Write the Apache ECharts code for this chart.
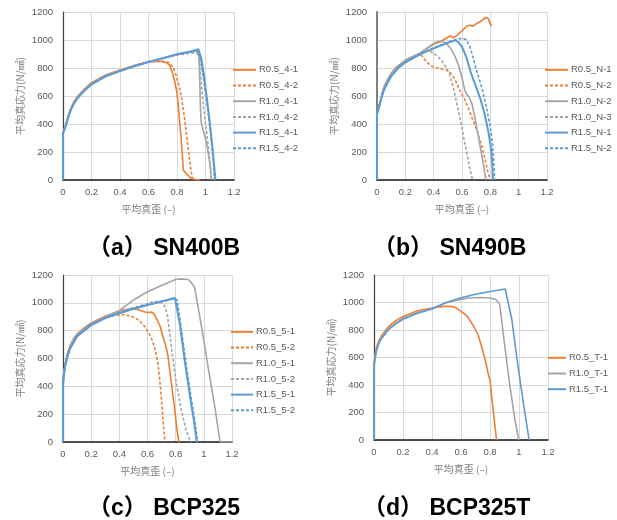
<!DOCTYPE html>
<html><head><meta charset="utf-8">
<script src="https://cdn.jsdelivr.net/npm/echarts@6/dist/echarts.min.js"></script>
<style>html,body{margin:0;padding:0;background:#fff}#c{width:617px;height:520px}</style>
</head><body><div id="c"></div>
<script>
// ---- tick labels / axis settings ----
const xTicks = [0, 0.2, 0.4, 0.6, 0.8, 1, 1.2];
const yTicks = [0, 200, 400, 600, 800, 1000, 1200];
const panelTitles = ['（a） SN400B', '（b） SN490B', '（c） BCP325', '（d） BCP325T'];
const xName = '平均真歪 (–)';
const yName = '平均真応力(N/㎟)';

// ---- (a) SN400B ----
const namesA = ['R0.5_4-1', 'R0.5_4-2', 'R1.0_4-1', 'R1.0_4-2', 'R1.5_4-1', 'R1.5_4-2'];
const a_R05_1 = [[0,0],[0,338],[0.01,348],[0.02,395],[0.03,435],[0.05,500],[0.075,555],[0.1,595],[0.15,650],[0.2,695],[0.3,750],[0.4,786],[0.5,818],[0.6,845],[0.65,848],[0.7,845],[0.73,835],[0.75,818],[0.77,760],[0.785,700],[0.8,620],[0.81,520],[0.82,400],[0.83,280],[0.845,70],[0.87,40],[0.9,12],[0.93,3],[0.96,0]];
const a_R05_2 = [[0,0],[0,336],[0.01,347],[0.02,393],[0.03,433],[0.05,497],[0.075,552],[0.1,592],[0.15,648],[0.2,693],[0.3,748],[0.4,784],[0.5,817],[0.6,845],[0.7,848],[0.74,840],[0.77,810],[0.79,760],[0.81,690],[0.83,600],[0.85,460],[0.87,300],[0.89,130],[0.9,60],[0.91,0]];
const a_R10_1 = [[0,0],[0,335],[0.01,345],[0.02,390],[0.03,430],[0.05,493],[0.075,548],[0.1,588],[0.15,644],[0.2,689],[0.3,745],[0.4,782],[0.5,815],[0.6,844],[0.7,870],[0.8,897],[0.9,915],[0.95,920],[0.955,860],[0.96,700],[0.965,500],[0.97,410],[0.99,330],[1.01,250],[1.03,120],[1.043,0]];
const a_R10_2 = [[0,0],[0,335],[0.01,345],[0.02,390],[0.03,430],[0.05,492],[0.075,547],[0.1,587],[0.15,643],[0.2,688],[0.3,744],[0.4,781],[0.5,814],[0.6,842],[0.7,868],[0.8,893],[0.9,905],[0.94,908],[0.955,870],[0.97,700],[0.99,480],[1.01,320],[1.03,150],[1.04,0]];
const a_R15_1 = [[0,0],[0,332],[0.01,342],[0.02,386],[0.03,425],[0.05,488],[0.075,543],[0.1,582],[0.15,638],[0.2,683],[0.3,740],[0.4,778],[0.5,813],[0.6,843],[0.7,870],[0.8,898],[0.9,920],[0.95,935],[0.97,870],[0.99,740],[1.01,580],[1.03,410],[1.05,220],[1.07,0]];
const a_R15_2 = [[0,0],[0,332],[0.01,342],[0.02,386],[0.03,425],[0.05,488],[0.075,543],[0.1,582],[0.15,638],[0.2,683],[0.3,740],[0.4,778],[0.5,813],[0.6,843],[0.7,869],[0.8,896],[0.9,917],[0.94,928],[0.96,880],[0.98,760],[1.0,620],[1.02,470],[1.04,290],[1.055,120],[1.062,0]];

// ---- (b) SN490B ----
const namesB = ['R0.5_N-1', 'R0.5_N-2', 'R1.0_N-2', 'R1.0_N-3', 'R1.5_N-1', 'R1.5_N-2'];
const b_R05_1 = [[0,0],[0,478],[0.01,485],[0.02,545],[0.035,615],[0.05,665],[0.07,710],[0.1,760],[0.13,800],[0.2,855],[0.25,880],[0.3,900],[0.34,930],[0.4,970],[0.45,990],[0.5,1020],[0.52,1030],[0.535,1015],[0.555,1025],[0.6,1065],[0.635,1100],[0.66,1105],[0.675,1098],[0.7,1115],[0.73,1132],[0.75,1148],[0.765,1160],[0.775,1150],[0.785,1155],[0.795,1125],[0.81,1100]];
const b_R05_2 = [[0,0],[0,476],[0.01,483],[0.02,543],[0.035,612],[0.05,662],[0.07,707],[0.1,757],[0.13,797],[0.2,852],[0.25,877],[0.3,895],[0.32,885],[0.34,855],[0.37,825],[0.4,805],[0.45,795],[0.5,780],[0.52,765],[0.55,720],[0.58,650],[0.6,610],[0.62,575],[0.65,500],[0.68,420],[0.71,340],[0.74,240],[0.76,160],[0.78,70],[0.8,0]];
const b_R10_2 = [[0,0],[0,475],[0.01,482],[0.02,542],[0.035,612],[0.05,662],[0.07,707],[0.1,757],[0.13,797],[0.2,853],[0.25,880],[0.3,905],[0.35,940],[0.4,975],[0.43,990],[0.46,990],[0.49,975],[0.52,940],[0.55,885],[0.575,820],[0.6,730],[0.62,640],[0.635,610],[0.65,590],[0.67,545],[0.69,450],[0.71,340],[0.73,230],[0.75,120],[0.765,20],[0.768,0]];
const b_R10_3 = [[0,0],[0,475],[0.01,482],[0.02,540],[0.035,610],[0.05,660],[0.07,705],[0.1,755],[0.13,795],[0.2,850],[0.25,875],[0.3,895],[0.35,920],[0.37,922],[0.4,905],[0.43,880],[0.46,850],[0.49,800],[0.51,760],[0.53,690],[0.55,610],[0.575,490],[0.6,370],[0.62,260],[0.645,140],[0.66,60],[0.675,0]];
const b_R15_1 = [[0,0],[0,470],[0.01,478],[0.03,580],[0.05,645],[0.1,740],[0.15,800],[0.2,840],[0.3,895],[0.4,940],[0.5,980],[0.55,997],[0.56,995],[0.575,985],[0.6,950],[0.62,905],[0.635,865],[0.66,775],[0.69,690],[0.73,580],[0.76,470],[0.785,350],[0.8,260],[0.81,170],[0.815,80],[0.818,0]];
const b_R15_2 = [[0,0],[0,472],[0.01,480],[0.03,583],[0.05,648],[0.1,743],[0.15,803],[0.2,843],[0.3,898],[0.4,945],[0.5,985],[0.56,1005],[0.6,1012],[0.63,1002],[0.655,955],[0.68,870],[0.7,790],[0.74,660],[0.77,530],[0.8,380],[0.815,260],[0.825,120],[0.83,0]];

// ---- (c) BCP325 ----
const namesC = ['R0.5_5-1', 'R0.5_5-2', 'R1.0_5-1', 'R1.0_5-2', 'R1.5_5-1', 'R1.5_5-2'];
const c_R05_1 = [[0,0],[0,425],[0.005,488],[0.015,562],[0.03,628],[0.05,692],[0.075,742],[0.1,776],[0.15,820],[0.2,855],[0.3,903],[0.4,942],[0.45,952],[0.49,958],[0.53,952],[0.57,938],[0.6,930],[0.63,933],[0.645,920],[0.66,895],[0.69,830],[0.71,755],[0.73,690],[0.745,620],[0.755,540],[0.77,420],[0.795,220],[0.81,80],[0.823,0]];
const c_R05_2 = [[0,0],[0,422],[0.005,484],[0.015,558],[0.03,624],[0.05,688],[0.075,738],[0.1,772],[0.15,816],[0.2,850],[0.3,893],[0.37,910],[0.43,915],[0.49,902],[0.54,875],[0.58,830],[0.61,780],[0.63,740],[0.65,680],[0.665,620],[0.675,550],[0.685,470],[0.7,300],[0.71,160],[0.718,60],[0.725,0]];
const c_R10_1 = [[0,0],[0,420],[0.005,480],[0.015,555],[0.03,620],[0.05,685],[0.075,735],[0.1,770],[0.15,815],[0.2,850],[0.3,900],[0.4,945],[0.5,1020],[0.6,1080],[0.7,1125],[0.8,1168],[0.84,1172],[0.89,1168],[0.915,1140],[0.935,1110],[0.985,820],[1.03,540],[1.08,240],[1.115,0],[1.2,0]];
const c_R10_2 = [[0,0],[0,418],[0.005,478],[0.015,552],[0.03,617],[0.05,680],[0.075,730],[0.1,765],[0.15,810],[0.2,845],[0.3,895],[0.4,932],[0.5,965],[0.6,995],[0.65,1012],[0.7,1000],[0.72,980],[0.74,920],[0.755,800],[0.78,600],[0.805,420],[0.84,230],[0.875,80],[0.9,20],[0.915,0]];
const c_R15_1 = [[0,0],[0,410],[0.005,470],[0.015,545],[0.03,610],[0.05,670],[0.1,760],[0.2,840],[0.3,890],[0.4,925],[0.5,958],[0.6,985],[0.7,1010],[0.795,1035],[0.805,1025],[0.83,845],[0.865,580],[0.9,340],[0.93,150],[0.95,0]];
const c_R15_2 = [[0,0],[0,412],[0.005,472],[0.015,547],[0.03,612],[0.05,672],[0.1,762],[0.2,842],[0.3,892],[0.4,927],[0.5,960],[0.6,987],[0.7,1010],[0.79,1030],[0.8,1032],[0.81,1020],[0.835,840],[0.87,580],[0.905,340],[0.935,150],[0.955,0]];

// ---- (d) BCP325T ----
const namesD = ['R0.5_T-1', 'R1.0_T-1', 'R1.5_T-1'];
const d_R05_1 = [[0,0],[0,560],[0.005,600],[0.015,665],[0.03,715],[0.05,755],[0.1,825],[0.15,868],[0.2,898],[0.3,940],[0.4,960],[0.45,968],[0.5,973],[0.545,970],[0.57,958],[0.6,935],[0.64,905],[0.68,840],[0.72,760],[0.75,650],[0.77,570],[0.79,470],[0.8,440],[0.81,330],[0.828,160],[0.845,0]];
const d_R10_1 = [[0,0],[0,540],[0.005,585],[0.015,650],[0.03,700],[0.05,742],[0.1,810],[0.15,852],[0.2,885],[0.3,928],[0.4,955],[0.5,1000],[0.55,1012],[0.65,1033],[0.74,1036],[0.8,1033],[0.84,1022],[0.86,1000],[0.868,980],[0.9,700],[0.935,410],[0.97,160],[0.998,0]];
const d_R15_1 = [[0,0],[0,530],[0.005,575],[0.015,640],[0.03,692],[0.05,735],[0.1,802],[0.15,845],[0.2,878],[0.3,922],[0.4,952],[0.5,1000],[0.6,1035],[0.7,1060],[0.8,1080],[0.905,1098],[0.95,880],[0.99,560],[1.03,270],[1.07,0]];

// ---- styling ----
const ORANGE = '#ED7D31', GRAY = '#A5A5A5', BLUE = '#5B9BD5';
const DASH = [3, 2];
const LATIN = '"Liberation Sans", "Noto Sans CJK JP", sans-serif';
const CJK = '"Noto Sans CJK JP", "Liberation Sans", sans-serif';

const grids = [
  {left: 63, top: 12, width: 171, height: 168},
  {left: 377, top: 12, width: 170, height: 168},
  {left: 63, top: 275, width: 169, height: 167},
  {left: 374, top: 275, width: 174, height: 165}
];
const yAxisLineColors = ['#404040', '#808080', '#404040', '#404040'];
const yAxisLineWidths = [1.2, 2, 1.2, 1.2];

function mkX(i) {
  return {
    type: 'value', gridIndex: i, min: xTicks[0], max: xTicks[xTicks.length - 1], interval: xTicks[1] - xTicks[0],
    name: xName, nameLocation: 'middle', nameGap: 24,
    nameTextStyle: {fontFamily: CJK, fontSize: 10, color: '#7f7f7f'},
    axisLine: {show: true, onZero: false, lineStyle: {color: '#1a1a1a', width: 1.5}},
    axisTick: {show: false},
    axisLabel: {fontFamily: LATIN, fontSize: 9.5, color: '#595959', margin: 8, formatter: v => String(+v.toFixed(1))},
    splitLine: {show: true, lineStyle: {color: '#d9d9d9', width: 1}}
  };
}
function mkY(i) {
  return {
    type: 'value', gridIndex: i, min: yTicks[0], max: yTicks[yTicks.length - 1], interval: yTicks[1] - yTicks[0],
    name: yName, nameLocation: 'middle', nameGap: 38,
    nameTextStyle: {fontFamily: CJK, fontSize: 10, color: '#7f7f7f'},
    axisLine: {show: true, onZero: false, lineStyle: {color: yAxisLineColors[i], width: yAxisLineWidths[i]}},
    axisTick: {show: false},
    axisLabel: {fontFamily: LATIN, fontSize: 9.5, color: '#595959', margin: 10, formatter: v => String(v)},
    splitLine: {show: true, lineStyle: {color: '#d9d9d9', width: 1}}
  };
}
function mkS(name, data, idx, color, dashed, w) {
  return {
    type: 'line', name: name, data: data, xAxisIndex: idx, yAxisIndex: idx,
    symbol: 'none', showSymbol: false, smooth: false, animation: false,
    lineStyle: {color: color, width: w || 1.6, type: dashed ? DASH : 'solid'},
    itemStyle: {color: color}
  };
}
function mkLegend(names, left, top, iw) {
  return {
    data: names, orient: 'vertical', left: left, top: top, padding: 0,
    itemWidth: iw, itemHeight: 12, itemGap: 6.1,
    itemStyle: {opacity: 0, borderWidth: 0},
    textStyle: {fontFamily: LATIN, fontSize: 9.5, color: '#595959', padding: [0, 0, 0, -2]}
  };
}

const seriesList = [
  mkS(namesA[0], a_R05_1, 0, ORANGE, false), mkS(namesA[1], a_R05_2, 0, ORANGE, true),
  mkS(namesA[2], a_R10_1, 0, GRAY, false), mkS(namesA[3], a_R10_2, 0, GRAY, true),
  mkS(namesA[4], a_R15_1, 0, BLUE, false, 2), mkS(namesA[5], a_R15_2, 0, BLUE, true),
  mkS(namesB[0], b_R05_1, 1, ORANGE, false), mkS(namesB[1], b_R05_2, 1, ORANGE, true),
  mkS(namesB[2], b_R10_2, 1, GRAY, false), mkS(namesB[3], b_R10_3, 1, GRAY, true),
  mkS(namesB[4], b_R15_1, 1, BLUE, false, 2), mkS(namesB[5], b_R15_2, 1, BLUE, true),
  mkS(namesC[0], c_R05_1, 2, ORANGE, false), mkS(namesC[1], c_R05_2, 2, ORANGE, true),
  mkS(namesC[2], c_R10_1, 2, GRAY, false), mkS(namesC[3], c_R10_2, 2, GRAY, true),
  mkS(namesC[4], c_R15_1, 2, BLUE, false, 2), mkS(namesC[5], c_R15_2, 2, BLUE, true, 2),
  mkS(namesD[0], d_R05_1, 3, ORANGE, false), mkS(namesD[1], d_R10_1, 3, GRAY, false),
  mkS(namesD[2], d_R15_1, 3, BLUE, false)
];

const titleStyle = {fontFamily: LATIN, fontSize: 23, fontWeight: 'bold', fill: '#000', textVerticalAlign: 'middle'};
const chart = echarts.init(document.getElementById('c'), null, {renderer: 'canvas'});
chart.setOption({
  animation: false,
  backgroundColor: '#fff',
  grid: grids,
  xAxis: [0, 1, 2, 3].map(mkX),
  yAxis: [0, 1, 2, 3].map(mkY),
  legend: [
    mkLegend(namesA, 232, 65, 23),
    mkLegend(namesB, 544, 65, 23),
    mkLegend(namesC, 230, 327, 22),
    mkLegend(namesD, 547, 353, 18)
  ],
  graphic: [
    {type: 'text', left: 88, top: 237, style: Object.assign({text: panelTitles[0]}, titleStyle)},
    {type: 'text', left: 373, top: 237, style: Object.assign({text: panelTitles[1]}, titleStyle)},
    {type: 'text', left: 88, top: 497, style: Object.assign({text: panelTitles[2]}, titleStyle)},
    {type: 'text', left: 363, top: 497, style: Object.assign({text: panelTitles[3]}, titleStyle)}
  ],
  series: seriesList
});
</script>
</body></html>
